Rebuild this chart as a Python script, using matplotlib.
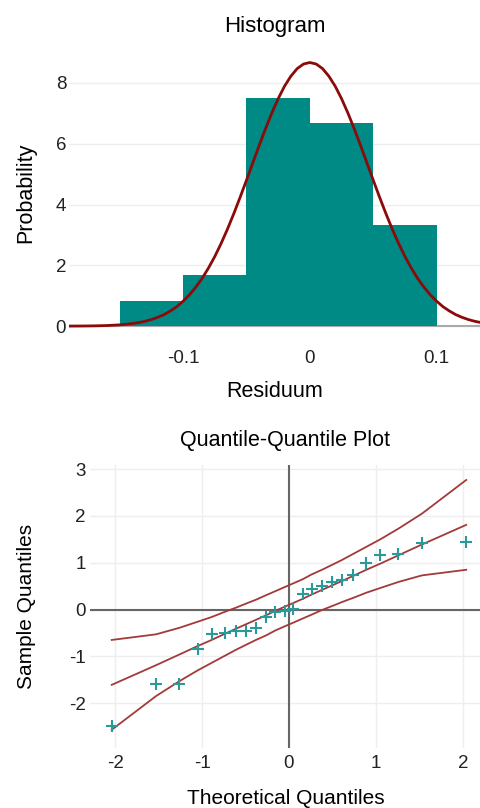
import numpy as np
import matplotlib
matplotlib.use("Agg")
import matplotlib.pyplot as plt

plt.rcParams["font.family"] = ["Liberation Sans", "DejaVu Sans"]

# histogram of residuals (density)
bin_edges = [-0.15, -0.10, -0.05, 0.00, 0.05, 0.10]
bin_density = [0.833, 1.667, 7.5, 6.667, 3.333]

# fitted normal curve
curve_x = [-0.19, -0.18, -0.17, -0.16, -0.15, -0.14, -0.135, -0.13, -0.125, -0.12, -0.115,
           -0.11, -0.105, -0.10, -0.095, -0.09, -0.085, -0.08, -0.075, -0.07, -0.065,
           -0.06, -0.055, -0.05, -0.045, -0.04, -0.035, -0.03, -0.025, -0.02, -0.015,
           -0.01, -0.005, 0.00, 0.005, 0.01, 0.015, 0.02, 0.025, 0.03, 0.035,
           0.04, 0.045, 0.05, 0.055, 0.06, 0.065, 0.07, 0.075, 0.08, 0.085,
           0.09, 0.095, 0.10, 0.105, 0.11, 0.115, 0.12, 0.125, 0.13, 0.135]
curve_y = [0.002, 0.004, 0.009, 0.02, 0.042, 0.085, 0.117, 0.16, 0.217, 0.29, 0.38,
           0.50, 0.64, 0.82, 1.03, 1.28, 1.57, 1.91, 2.29, 2.72, 3.19,
           3.70, 4.24, 4.80, 5.37, 5.94, 6.49, 7.01, 7.48, 7.89, 8.22,
           8.47, 8.62, 8.67, 8.62, 8.47, 8.22, 7.89, 7.48, 7.01, 6.49,
           5.94, 5.37, 4.80, 4.24, 3.70, 3.19, 2.72, 2.29, 1.91, 1.57,
           1.28, 1.03, 0.82, 0.64, 0.50, 0.38, 0.29, 0.217, 0.16, 0.117]

# Q-Q plot
theo_q = [-2.04, -1.53, -1.26, -1.05, -0.89, -0.74, -0.61, -0.49, -0.38, -0.26, -0.16, -0.05,
          0.05, 0.16, 0.26, 0.38, 0.49, 0.61, 0.74, 0.89, 1.05, 1.26, 1.53, 2.04]
sample_q = [-2.49, -1.60, -1.60, -0.85, -0.52, -0.51, -0.46, -0.45, -0.40, -0.17, -0.05, -0.04,
            0.02, 0.33, 0.43, 0.51, 0.59, 0.64, 0.73, 1.00, 1.16, 1.19, 1.42, 1.45]
ref_line = [-1.61, -1.19, -0.96, -0.78, -0.65, -0.52, -0.41, -0.31, -0.22, -0.12, -0.03, 0.06,
            0.14, 0.23, 0.32, 0.42, 0.51, 0.61, 0.72, 0.85, 0.98, 1.16, 1.39, 1.81]
band_upper = [-0.65, -0.53, -0.39, -0.26, -0.16, -0.05, 0.04, 0.13, 0.21, 0.31, 0.39, 0.48,
              0.56, 0.65, 0.75, 0.85, 0.95, 1.06, 1.19, 1.34, 1.50, 1.73, 2.05, 2.77]
band_lower = [-2.57, -1.85, -1.53, -1.30, -1.14, -0.99, -0.86, -0.75, -0.65, -0.55, -0.45, -0.36,
              -0.28, -0.19, -0.11, -0.01, 0.07, 0.16, 0.25, 0.36, 0.46, 0.59, 0.73, 0.85]

W, H = 481, 808
fig = plt.figure(figsize=(W / 100, H / 100), dpi=100)

teal = "#008a86"
grid_c = "#eeeeee"


def px_axes(left, top, right, bottom):
    return fig.add_axes([left / W, 1 - bottom / H, (right - left) / W, (bottom - top) / H])


def clean(ax):
    for s in ax.spines.values():
        s.set_visible(False)
    ax.tick_params(length=0, labelsize=13.5, colors="#222222")


# ---- histogram ----
ax1 = px_axes(69, 54, 481, 331)
clean(ax1)
ax1.set_xlim(-0.19, 0.135)
ax1.set_ylim(-0.16, 8.95)
ax1.set_yticks([0, 2, 4, 6, 8])
ax1.set_xticks([-0.1, 0, 0.1])
ax1.set_xticklabels(["-0.1", "0", "0.1"])
ax1.set_yticklabels(["0", "2", "4", "6", "8"])
ax1.grid(axis="y", color=grid_c, linewidth=1)
ax1.set_axisbelow(True)
ax1.axhline(0, color="#aaaaaa", linewidth=1.5, zorder=1)
widths = np.diff(bin_edges)
ax1.bar(bin_edges[:-1], bin_density, width=widths, align="edge", color=teal, zorder=2)
ax1.plot(curve_x, curve_y, color="#8b0a0a", linewidth=2, zorder=3, solid_capstyle="round")
ax1.tick_params(axis="x", pad=14)
ax1.tick_params(axis="y", pad=2)
ax1.set_title("Histogram", fontsize=16, pad=16)
ax1.set_xlabel("Residuum", fontsize=15.5, labelpad=10)
ax1.set_ylabel("Probability", fontsize=15.5, labelpad=14)

# ---- Q-Q plot ----
ax2 = px_axes(90, 465, 481, 748)
clean(ax2)
ax2.set_xlim(-2.29, 2.21)
ax2.set_ylim(-2.96, 3.09)
ax2.set_xticks([-2, -1, 0, 1, 2])
ax2.set_xticklabels(["-2", "-1", "0", "1", "2"])
ax2.set_yticks([-2, -1, 0, 1, 2, 3])
ax2.set_yticklabels(["-2", "-1", "0", "1", "2", "3"])
ax2.grid(color=grid_c, linewidth=1)
ax2.set_axisbelow(True)
ax2.axhline(0, color="#666666", linewidth=1.5, zorder=1)
ax2.axvline(0, color="#666666", linewidth=1.5, zorder=1)
line_c = "#a33a3a"
ax2.plot(theo_q, band_upper, color=line_c, linewidth=1.3, zorder=2)
ax2.plot(theo_q, ref_line, color=line_c, linewidth=1.3, zorder=2)
ax2.plot(theo_q, band_lower, color=line_c, linewidth=1.3, zorder=2)
ax2.plot(theo_q, sample_q, linestyle="none", marker="+", markersize=9, markeredgewidth=1.5,
         color="#2a9a98", zorder=3)
ax2.tick_params(axis="x", pad=5)
ax2.tick_params(axis="y", pad=3)
ax2.set_title("Quantile-Quantile Plot", fontsize=15.5, pad=14)
ax2.set_xlabel("Theoretical Quantiles", fontsize=15, labelpad=12)
ax2.set_ylabel("Sample Quantiles", fontsize=15, labelpad=24)

fig.savefig("out.png", dpi=100)
